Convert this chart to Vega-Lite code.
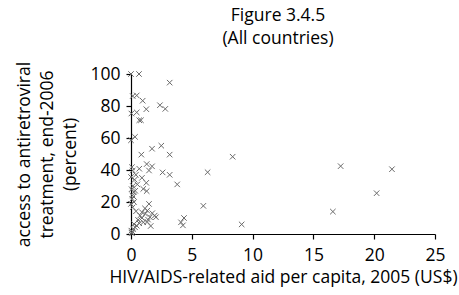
{
  "$schema": "https://vega.github.io/schema/vega-lite/v6.json",
  "width": 304,
  "height": 160,
  "autosize": "none",
  "padding": {"left": 131, "top": 74, "right": 24, "bottom": 61},
  "background": "white",
  "title": {
    "text": ["Figure 3.4.5", "(All countries)"],
    "font": "Open Sans",
    "fontSize": 17.5,
    "fontWeight": "normal",
    "color": "black",
    "anchor": "middle",
    "lineHeight": 23,
    "offset": 14,
    "dx": -5
  },
  "data": {
    "values": [
      {"aid": 0.0, "pct": 100}, {"aid": 0.66, "pct": 100}, {"aid": 3.18, "pct": 94.6},
      {"aid": 0.14, "pct": 86.2}, {"aid": 0.47, "pct": 86.6}, {"aid": 0.96, "pct": 83.3},
      {"aid": 1.26, "pct": 78.0}, {"aid": 2.38, "pct": 80.5}, {"aid": 2.82, "pct": 78.2},
      {"aid": 0.03, "pct": 75.3}, {"aid": 0.47, "pct": 76.0}, {"aid": 0.68, "pct": 71.1},
      {"aid": 0.82, "pct": 71.1}, {"aid": 0.0, "pct": 58.6}, {"aid": 0.33, "pct": 60.7},
      {"aid": 0.85, "pct": 49.6}, {"aid": 1.73, "pct": 53.3}, {"aid": 2.49, "pct": 55.2},
      {"aid": 3.18, "pct": 49.6}, {"aid": 0.08, "pct": 41.8}, {"aid": 0.14, "pct": 39.7},
      {"aid": 0.68, "pct": 40.8}, {"aid": 1.29, "pct": 43.7}, {"aid": 1.73, "pct": 42.3},
      {"aid": 1.48, "pct": 39.7}, {"aid": 2.6, "pct": 38.5}, {"aid": 3.18, "pct": 37.0},
      {"aid": 0.0, "pct": 35.6}, {"aid": 0.3, "pct": 33.9}, {"aid": 0.9, "pct": 35.1},
      {"aid": 0.52, "pct": 31.0}, {"aid": 1.26, "pct": 32.0}, {"aid": 3.8, "pct": 31.0},
      {"aid": 0.22, "pct": 26.2}, {"aid": 0.11, "pct": 24.1}, {"aid": 1.01, "pct": 28.2},
      {"aid": 1.29, "pct": 26.8}, {"aid": 0.0, "pct": 18.8}, {"aid": 0.14, "pct": 16.7},
      {"aid": 1.48, "pct": 18.8}, {"aid": 0.41, "pct": 14.2}, {"aid": 0.9, "pct": 13.6},
      {"aid": 1.34, "pct": 14.6}, {"aid": 1.18, "pct": 12.6}, {"aid": 1.56, "pct": 10.5},
      {"aid": 1.95, "pct": 11.5}, {"aid": 2.05, "pct": 10.5}, {"aid": 0.9, "pct": 10.0},
      {"aid": 0.58, "pct": 8.8}, {"aid": 1.34, "pct": 7.5}, {"aid": 1.62, "pct": 5.0},
      {"aid": 4.36, "pct": 10.0}, {"aid": 4.11, "pct": 7.3}, {"aid": 4.27, "pct": 5.4},
      {"aid": 0.25, "pct": 6.2}, {"aid": 0.47, "pct": 5.2}, {"aid": 0.68, "pct": 6.7},
      {"aid": 1.01, "pct": 7.3}, {"aid": 0.03, "pct": 2.1}, {"aid": 0.08, "pct": 0.4},
      {"aid": 0.19, "pct": 3.1}, {"aid": 0.33, "pct": 4.2}, {"aid": 0.05, "pct": 1.0},
      {"aid": 0.12, "pct": 1.5}, {"aid": 0.1, "pct": 22.0}, {"aid": 0.2, "pct": 23.5},
      {"aid": 0.05, "pct": 28.0}, {"aid": 0.15, "pct": 30.0}, {"aid": 0.35, "pct": 27.0},
      {"aid": 0.25, "pct": 20.0}, {"aid": 0.4, "pct": 37.0}, {"aid": 1.15, "pct": 16.0},
      {"aid": 1.75, "pct": 13.0}, {"aid": 0.75, "pct": 11.5}, {"aid": 1.4, "pct": 9.0},
      {"aid": 8.36, "pct": 48.3}, {"aid": 6.3, "pct": 38.6}, {"aid": 5.95, "pct": 17.6},
      {"aid": 9.1, "pct": 6.0}, {"aid": 17.24, "pct": 42.4}, {"aid": 16.6, "pct": 14.0},
      {"aid": 21.46, "pct": 40.5}, {"aid": 20.2, "pct": 25.5}
    ]
  },
  "mark": {
    "type": "point",
    "shape": "M-1,-1L1,1M-1,1L1,-1",
    "size": 30,
    "filled": false,
    "stroke": "#6a6a6a",
    "strokeWidth": 1,
    "opacity": 1
  },
  "encoding": {
    "x": {
      "field": "aid",
      "type": "quantitative",
      "scale": {"domain": [0, 25], "nice": false, "zero": true},
      "axis": {
        "values": [0, 5, 10, 15, 20, 25],
        "title": "HIV/AIDS-related aid per capita, 2005 (US$)",
        "grid": false,
        "labelPadding": 7,
        "titlePadding": 5
      }
    },
    "y": {
      "field": "pct",
      "type": "quantitative",
      "scale": {"domain": [0, 100], "nice": false},
      "axis": {
        "values": [0, 20, 40, 60, 80, 100],
        "title": ["access to antiretroviral", "treatment, end-2006", "(percent)"],
        "grid": false,
        "labelPadding": 6,
        "titleLineHeight": 23,
        "titlePadding": 10
      }
    }
  },
  "config": {
    "view": {"stroke": null},
    "axis": {
      "domainColor": "black",
      "domainWidth": 1.2,
      "tickColor": "black",
      "tickSize": 5,
      "tickWidth": 1.2,
      "labelFont": "Open Sans",
      "labelFontSize": 17.5,
      "labelColor": "black",
      "titleFont": "Open Sans",
      "titleFontSize": 17.5,
      "titleFontWeight": "normal",
      "titleColor": "black"
    },
    "axisX": {"labelFlush": false},
    "axisY": {"labelFlush": false}
  }
}
